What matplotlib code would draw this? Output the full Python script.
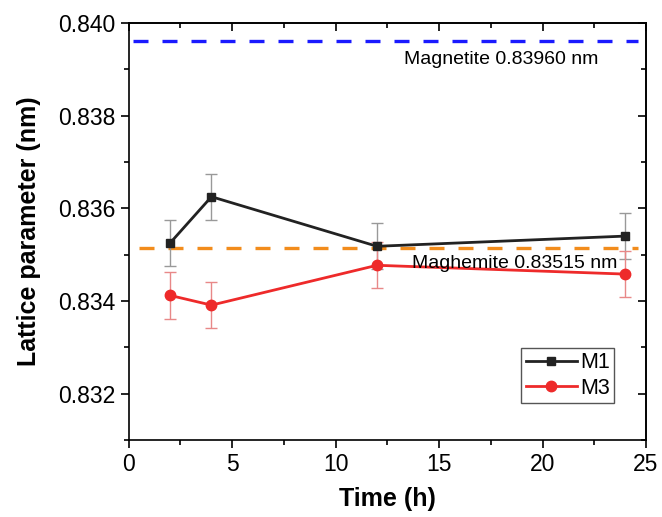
import matplotlib
matplotlib.use("Agg")
import matplotlib.pyplot as plt
from matplotlib.ticker import MultipleLocator

plt.rcParams['font.family'] = ['Liberation Sans', 'DejaVu Sans']

time_h = [2, 4, 12, 24]
m1 = [0.83525, 0.83625, 0.83518, 0.83540]
m1_err = [0.0005, 0.0005, 0.0005, 0.0005]
m3 = [0.83412, 0.83391, 0.83477, 0.83458]
m3_err = [0.0005, 0.0005, 0.0005, 0.0005]
magnetite = 0.83960
maghemite = 0.83515

fig = plt.figure(figsize=(6.62, 5.17), dpi=100)
ax = fig.add_axes([0.1944, 0.149, 0.7814, 0.8066])

ax.plot([0.2, 24.6], [magnetite, magnetite], color='#1a1aff', lw=2.4, dashes=(4.5, 4.2))
ax.plot([0.5, 24.6], [maghemite, maghemite], color='#f28c1c', lw=2.4, dashes=(4.5, 4.2))

ax.errorbar(time_h, m1, yerr=m1_err, fmt='none', ecolor='#999999',
            elinewidth=1, capsize=4, capthick=1, zorder=2)
ax.errorbar(time_h, m3, yerr=m3_err, fmt='none', ecolor='#e88888',
            elinewidth=1, capsize=4, capthick=1, zorder=2)
ax.plot(time_h, m1, color='#222222', lw=2, marker='s', ms=6, label='M1', zorder=3)
ax.plot(time_h, m3, color='#ee2a2a', lw=2, marker='o', ms=7.5, label='M3', zorder=3)

ax.text(22.7, 0.83940, 'Magnetite 0.83960 nm', ha='right', va='top', fontsize=14)
ax.text(23.6, 0.83500, 'Maghemite 0.83515 nm', ha='right', va='top', fontsize=14)

ax.set_xlim(0, 25)
ax.set_ylim(0.831, 0.840)
ax.xaxis.set_major_locator(MultipleLocator(5))
ax.xaxis.set_minor_locator(MultipleLocator(2.5))
ax.yaxis.set_minor_locator(MultipleLocator(0.001))
ax.set_yticks([0.832, 0.834, 0.836, 0.838, 0.840])
ax.set_yticklabels(['0.832', '0.834', '0.836', '0.838', '0.840'])
ax.tick_params(which='major', direction='out', length=6, width=1.2, labelsize=16.5)
ax.tick_params(which='minor', direction='out', length=3.5, width=1.2)
for s in ax.spines.values():
    s.set_linewidth(1.2)

# mirrored inward ticks on top and right spines
secx = ax.secondary_xaxis('top')
secx.xaxis.set_major_locator(MultipleLocator(5))
secx.xaxis.set_minor_locator(MultipleLocator(2.5))
secx.tick_params(which='major', direction='in', length=6, width=1.2, labeltop=False)
secx.tick_params(which='minor', direction='in', length=3.5, width=1.2)
secx.spines['top'].set_linewidth(1.2)
secy = ax.secondary_yaxis('right')
secy.yaxis.set_major_locator(MultipleLocator(0.002))
secy.yaxis.set_minor_locator(MultipleLocator(0.001))
secy.tick_params(which='major', direction='in', length=6, width=1.2, labelright=False)
secy.tick_params(which='minor', direction='in', length=3.5, width=1.2)
secy.spines['right'].set_linewidth(1.2)

ax.set_xlabel('Time (h)', fontsize=18, fontweight='bold', labelpad=8)
ax.set_ylabel('Lattice parameter (nm)', fontsize=18, fontweight='bold', labelpad=12)

leg = ax.legend(loc='lower right', bbox_to_anchor=(0.938, 0.0887), borderaxespad=0,
                fontsize=15.5, fancybox=False, edgecolor='#555555', framealpha=1,
                handlelength=2.37, borderpad=0.2, labelspacing=0.2, handletextpad=0.15)
leg.get_frame().set_linewidth(1)

fig.savefig('out.png', dpi=100)
